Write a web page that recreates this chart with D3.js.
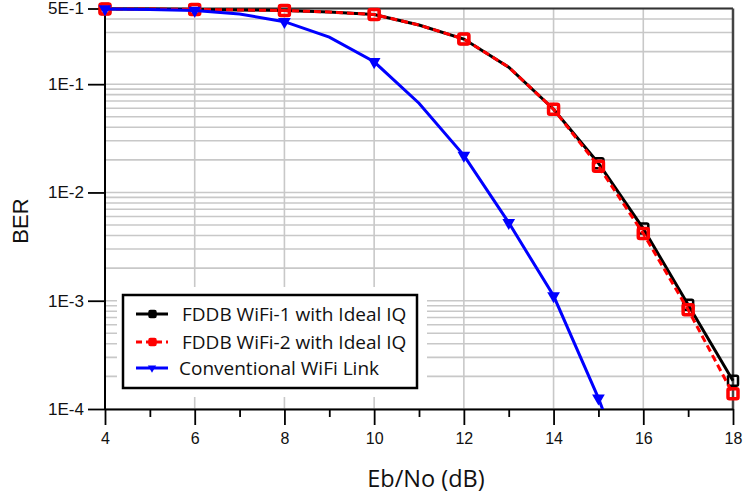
<!DOCTYPE html>
<html><head><meta charset="utf-8">
<script src="https://cdn.jsdelivr.net/npm/d3@7"></script>
<style>body{margin:0;background:#fff}svg{display:block}</style>
</head><body>
<svg id="c" width="743" height="494"></svg>
<script>
// ---- data ----
const ebno = [4,5,6,7,8,9,10,11,12,13,14,15,16,17,18];
const fddb1 = [0.495,0.495,0.49,0.485,0.479,0.464,0.44,0.352,0.261,0.1436,0.0587,0.0186,0.00464,0.000918,0.000182];
const fddb2 = [0.495,0.495,0.49,0.485,0.479,0.464,0.44,0.352,0.261,0.1436,0.0587,0.0175,0.00417,0.000826,0.000138];
const convX = [4,5,6,7,8,9,10,11,12,13,14,15,16];
const conv = [0.495,0.49,0.48,0.445,0.378,0.272,0.161,0.0667,0.022,0.00527,0.00111,0.000126,0.00001];
const fddbMarkers = [4,6,8,10,12,14,15,16,17,18];
const convMarkers = [4,6,8,10,12,13,14,15];
const yTicks = [0.5,0.1,0.01,0.001,0.0001];
const yTickLabels = ["5E-1","1E-1","1E-2","1E-3","1E-4"];
const xTicks = [4,6,8,10,12,14,16,18];
const seriesNames = ["FDDB WiFi-1 with Ideal IQ","FDDB WiFi-2 with Ideal IQ","Conventional WiFi Link"];

const svg = d3.select("#c");
const L=105, R=733, T=8.5, B=409;
const x = d3.scaleLinear().domain([4,18]).range([L,R]);
const y = d3.scaleLog().domain([1e-4,0.5]).range([B,T]);

// grid
const hvals=[];
for(let e=-4;e<=-1;e++) for(let k=1;k<=9;k++){const v=k*Math.pow(10,e); if(v<=0.5+1e-9) hvals.push(v);}
svg.append("g").selectAll("line").data(hvals).join("line")
  .attr("x1",L).attr("x2",R).attr("y1",d=>y(d)).attr("y2",d=>y(d))
  .attr("stroke","#c8c8c8").attr("stroke-width",1.6);
svg.append("g").selectAll("line").data(d3.range(6,18,2)).join("line")
  .attr("x1",d=>x(d)).attr("x2",d=>x(d)).attr("y1",T).attr("y2",B)
  .attr("stroke","#c8c8c8").attr("stroke-width",1.6);

// legend background
svg.append("rect").attr("x",117).attr("y",287).attr("width",310).attr("height",110).attr("fill","#fff");

// frame
svg.append("line").attr("x1",L).attr("x2",R).attr("y1",T).attr("y2",T).attr("stroke","#333").attr("stroke-width",2);
svg.append("line").attr("x1",R).attr("x2",R).attr("y1",T).attr("y2",B).attr("stroke","#444").attr("stroke-width",2.5);

// axes
const xAxis = d3.axisBottom(x).tickValues(d3.range(4,19,1)).tickSize(0).tickFormat("");
const gx = svg.append("g").attr("transform",`translate(0,${B})`).call(xAxis);
gx.select(".domain").attr("stroke","#000").attr("stroke-width",2);
gx.selectAll(".tick line").attr("y2",d=>d%2===0?16:8).attr("stroke","#000").attr("stroke-width",1.8);
gx.selectAll(".tick").filter(d=>xTicks.includes(d)).append("text")
  .attr("y",35).attr("fill","#111").attr("text-anchor","middle")
  .style("font-family","'Liberation Sans',Arial,sans-serif").style("font-size","16px")
  .text(d=>d);

const yAxis = d3.axisLeft(y).tickValues(yTicks).tickSize(17).tickPadding(4)
  .tickFormat((d,i)=>yTickLabels[i]);
const gy = svg.append("g").attr("transform",`translate(${L},0)`).call(yAxis);
gy.select(".domain").attr("stroke","#000").attr("stroke-width",2).attr("d",`M0,${T}V${B}`);
gy.selectAll(".tick line").attr("stroke","#000").attr("stroke-width",1.8);
gy.selectAll(".tick text").attr("fill","#111")
  .style("font-family","'Liberation Sans',Arial,sans-serif").style("font-size","17px");

// axis titles
svg.append("text").attr("x",426).attr("y",487).attr("text-anchor","middle")
  .style("font-family","'Open Sans',sans-serif").style("font-size","23.5px").attr("fill","#111")
  .text("Eb/No (dB)");
svg.append("text").attr("transform","translate(28,221) rotate(-90)").attr("text-anchor","middle")
  .style("font-family","'Liberation Sans',Arial,sans-serif").style("font-size","22px").attr("fill","#111")
  .text("BER");

// clip
svg.append("clipPath").attr("id","clip").append("rect").attr("x",0).attr("y",0).attr("width",743).attr("height",B);

const line = d3.line().x(d=>x(d[0])).y(d=>y(d[1]));
const s1 = ebno.map((v,i)=>[v,fddb1[i]]);
const s2 = ebno.map((v,i)=>[v,fddb2[i]]);
const s3 = convX.map((v,i)=>[v,conv[i]]);

const gS = svg.append("g").attr("clip-path","url(#clip)");
gS.append("path").datum(s1).attr("d",line).attr("fill","none").attr("stroke","#000").attr("stroke-width",3);
gS.selectAll(".m1").data(s1.filter(d=>fddbMarkers.includes(d[0]))).join("rect")
  .attr("x",d=>x(d[0])-5).attr("y",d=>y(d[1])-5).attr("width",10).attr("height",10).attr("rx",1.5)
  .attr("fill","none").attr("stroke","#000").attr("stroke-width",2.5);
gS.append("path").datum(s2).attr("d",line).attr("fill","none").attr("stroke","#f00").attr("stroke-width",3).attr("stroke-dasharray","7,4");
gS.selectAll(".m2").data(s2.filter(d=>fddbMarkers.includes(d[0]))).join("rect")
  .attr("x",d=>x(d[0])-5).attr("y",d=>y(d[1])-5).attr("width",10).attr("height",10).attr("rx",1.5)
  .attr("fill","none").attr("stroke","#f00").attr("stroke-width",3.5);
gS.append("path").datum(s3).attr("d",line).attr("fill","none").attr("stroke","#00f").attr("stroke-width",3);
const tri = d3.symbol().type(d3.symbolTriangle).size(70);
gS.selectAll(".m3").data(s3.filter(d=>convMarkers.includes(d[0]))).join("path")
  .attr("d",tri).attr("transform",d=>`translate(${x(d[0])},${y(d[1])}) rotate(180)`)
  .attr("fill","#00f");

// legend
svg.append("rect").attr("x",123).attr("y",295).attr("width",294).attr("height",93)
  .attr("fill","#fff").attr("stroke","#000").attr("stroke-width",2.5);
const rows=[314,342,368];
const lg = svg.append("g");
const styles=[{c:"#000",dash:null},{c:"#f00",dash:"6,4"},{c:"#00f",dash:null}];
rows.forEach((ry,i)=>{
  lg.append("line").attr("x1",136).attr("x2",168).attr("y1",ry).attr("y2",ry)
    .attr("stroke",styles[i].c).attr("stroke-width",3).attr("stroke-dasharray",styles[i].dash);
  if(i<2){
    lg.append("rect").attr("x",149).attr("y",ry-3.5).attr("width",7).attr("height",7).attr("rx",1.5)
      .attr("fill",i===0?"#000":"#f00").attr("stroke",styles[i].c).attr("stroke-width",1.5);
  } else {
    lg.append("path").attr("d",d3.symbol().type(d3.symbolTriangle).size(30))
      .attr("transform",`translate(152,${ry}) rotate(180)`).attr("fill","#00f");
  }
  lg.append("text").attr("x",i<2?182:179).attr("y",ry+6.5)
    .style("font-family","'Open Sans',sans-serif").style("font-size","19px").attr("fill","#111")
    .text(seriesNames[i]);
});
</script>
</body></html>
